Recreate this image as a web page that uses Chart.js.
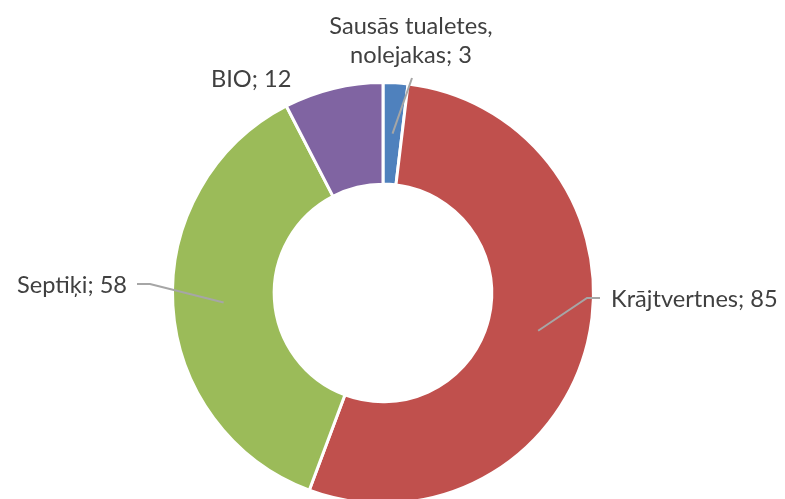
<!DOCTYPE html>
<html>
<head>
<meta charset="utf-8">
<script src="https://cdn.jsdelivr.net/npm/chart.js@4/dist/chart.umd.min.js"></script>
<style>
  html, body { margin:0; padding:0; background:#fff; overflow:hidden; }
  #wrap { width:785px; height:499px; overflow:hidden; }
</style>
</head>
<body>
<div id="wrap"><canvas id="chart" width="785" height="520"></canvas></div>
<script>
// dati
const categories = ['Sausās tualetes, nolejakas', 'Krājtvertnes', 'Septiķi', 'BIO'];
const labelLines = [['Sausās tualetes,', 'nolejakas; 3'], ['Krājtvertnes; 85'], ['Septiķi; 58'], ['BIO; 12']];
const values = [3, 85, 58, 12];
const colors = ['#4F81BD', '#C0504D', '#9BBB59', '#8064A2'];

// etiķešu novietojums attiecībā pret centru (px)
const labelLayout = [
  { x: 28, y: -259, align: 'center', lineH: 29, path: [[29, -215]] },
  { x: 228, y: 14, align: 'left', lineH: 29, path: [[204, 5], [217, 5]] },
  { x: -256, y: 0, align: 'right', lineH: 29, path: [[-233, -9], [-246, -9]] },
  { x: -172, y: -206, align: 'left', lineH: 29, path: [] }
];

const labelPlugin = {
  id: 'labels',
  afterDatasetsDraw(chart){
    const ctx = chart.ctx;
    const meta = chart.getDatasetMeta(0);
    const cx = meta.data[0].x, cy = meta.data[0].y;
    // fonta izmērs pēc platuma
    ctx.save();
    ctx.font = '20px Lato';
    let fs = 20 * 167 / ctx.measureText('Krājtvertnes; 85').width;
    ctx.font = fs.toFixed(1) + 'px Lato';
    meta.data.forEach((arc, i) => {
      const lay = labelLayout[i];
      const p = arc.tooltipPosition();
      if(lay.path.length){
        ctx.strokeStyle = '#A6A6A6';
        ctx.lineWidth = 2;
        ctx.beginPath();
        ctx.moveTo(p.x, p.y);
        lay.path.forEach(pt => ctx.lineTo(cx + pt[0], cy + pt[1]));
        ctx.stroke();
      }
      ctx.fillStyle = '#404040';
      ctx.textAlign = lay.align;
      ctx.textBaseline = 'alphabetic';
      labelLines[i].forEach((t, k) => {
        ctx.fillText(t, cx + lay.x, cy + lay.y + k * lay.lineH);
      });
    });
    ctx.restore();
  }
};

new Chart(document.getElementById('chart').getContext('2d'), {
  type: 'doughnut',
  data: {
    labels: categories,
    datasets: [{
      data: values,
      backgroundColor: colors,
      borderColor: '#ffffff',
      borderWidth: 3
    }]
  },
  options: {
    responsive: false,
    animation: false,
    cutout: '51.7%',
    layout: { padding: { left: 171, right: 190, top: 81, bottom: 15 } },
    plugins: {
      legend: { display: false },
      tooltip: { enabled: false }
    }
  },
  plugins: [labelPlugin]
});
</script>
</body>
</html>
